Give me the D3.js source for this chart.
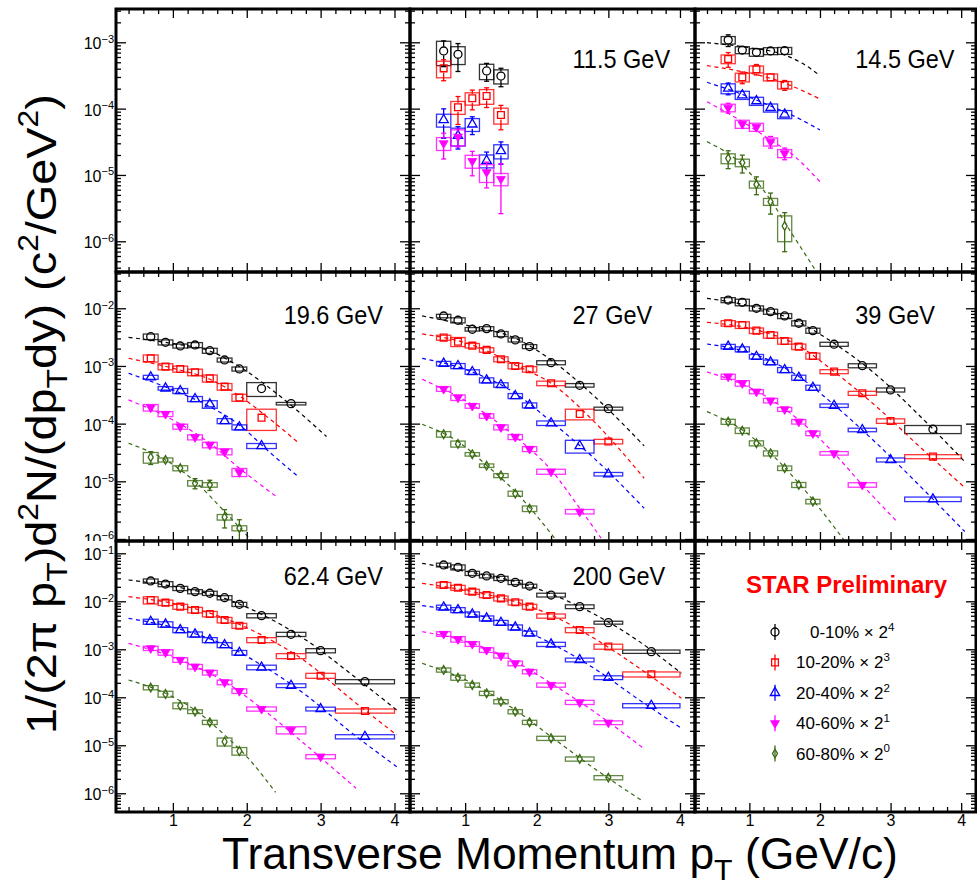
<!DOCTYPE html>
<html>
<head>
<meta charset="utf-8">
<script src="https://cdn.jsdelivr.net/npm/d3@7/dist/d3.min.js"></script>
<style>
html,body{margin:0;padding:0;background:#fff;}
svg{display:block;}
text{font-family:"Liberation Sans",Helvetica,Arial,sans-serif;}
</style>
</head>
<body>
<svg id="chart" width="977" height="889"></svg>
<script>
// ================= DATA =================
const ptBins   = [0.7, 0.9, 1.1, 1.3, 1.5, 1.7, 1.9, 2.2, 2.6, 3.0, 3.6];
const binWidth = [0.2, 0.2, 0.2, 0.2, 0.2, 0.2, 0.2, 0.4, 0.4, 0.4, 0.8];
const centralities = ["0-10%", "10-20%", "20-40%", "40-60%", "60-80%"];
const scalePower   = [4, 3, 2, 1, 0];
const energyLabels = ["11.5 GeV", "14.5 GeV", "19.6 GeV", "27 GeV", "39 GeV", "62.4 GeV", "200 GeV"];
const xTickValues = [1, 2, 3, 4];
const xTickLabels = ["1", "2", "3", "4"];
const yTickExpRow = [[-3, -4, -5, -6], [-2, -3, -4, -5, -6], [-1, -2, -3, -4, -5, -6]];
const legendTitle = "STAR Preliminary";

// ---- 11.5 GeV ----
const yield_11p5 = [
  [7.4e-4, 6.6e-4, null, 3.7e-4, 3.1e-4],
  [4.05e-4, 1.05e-4, 1.43e-4, 1.55e-4, 8.0e-5],
  [6.75e-5, 3.9e-5, 5.8e-5, 1.64e-5, 2.3e-5],
  [3.0e-5, 3.77e-5, 1.62e-5, 1.1e-5, 8.7e-6],
  []
];
const sys_11p5 = [
  [0.40, 0.30, null, 0.26, 0.24],
  [0.28, 0.22, 0.21, 0.25, 0.27],
  [0.22, 0.30, 0.22, 0.22, 0.24],
  [0.22, 0.27, 0.22, 0.30, 0.21],
  []
];
const stat_11p5 = [
  [0.42, 0.45, null, 0.30, 0.31],
  [0.35, 0.45, 0.33, 0.33, 0.40],
  [0.47, 0.37, 0.30, 0.35, 0.37],
  [0.42, 0.30, 0.40, 0.42, 0.70],
  []
];
const fitPt_11p5 = [[], [], [], [], []];
const fitLog_11p5 = [[], [], [], [], []];

// ---- 14.5 GeV ----
const yield_14p5 = [
  [1.08e-3, 7.65e-4, 7.07e-4, 7.4e-4, 7.46e-4],
  [5.6e-4, 2.97e-4, 3.92e-4, 2.97e-4, 2.27e-4],
  [2.02e-4, 1.6e-4, 1.3e-4, 1.03e-4, 8.2e-5],
  [1.03e-4, 5.86e-5, 5.28e-5, 3.17e-5, 2.12e-5],
  [1.78e-5, 1.53e-5, 7.2e-6, 3.95e-6, 1.7e-6]
];
const sys_14p5 = [
  [0.13, 0.12, 0.13, 0.12, 0.12],
  [0.15, 0.15, 0.12, 0.12, 0.13],
  [0.17, 0.14, 0.14, 0.14, 0.14],
  [0.13, 0.14, 0.14, 0.14, 0.14],
  [0.17, 0.13, 0.12, 0.12, 0.42]
];
const stat_14p5 = [
  [0.20, 0.05, 0.05, 0.05, 0.05],
  [0.25, 0.20, 0.18, 0.14, 0.17],
  [0.20, 0.10, 0.10, 0.10, 0.10],
  [0.17, 0.12, 0.12, 0.20, 0.20],
  [0.30, 0.30, 0.30, 0.35, 0.59]
];
const fitPt_14p5 = [
  [0.4, 1.0, 1.5, 1.75, 2.0],
  [0.4, 0.9, 1.3, 1.6, 2.0],
  [0.4, 0.9, 1.3, 1.6, 2.0],
  [0.4, 0.9, 1.3, 1.6, 2.0],
  [0.4, 0.9, 1.3, 1.6, 1.95]
];
const fitLog_14p5 = [
  [-3.006, -3.081, -3.191, -3.317, -3.503],
  [-3.352, -3.443, -3.543, -3.659, -3.855],
  [-3.603, -3.785, -3.960, -4.096, -4.322],
  [-3.895, -4.197, -4.473, -4.684, -5.101],
  [-4.498, -4.850, -5.378, -5.880, -6.458]
];

// ---- 19.6 GeV ----
const yield_19p6 = [
  [3.22e-3, 2.57e-3, 2.22e-3, 2.31e-3, 1.84e-3, 1.27e-3, 8.87e-4, 4.05e-4, 2.22e-4],
  [1.36e-3, 9.75e-4, 8.87e-4, 7.77e-4, 6.1e-4, 4.38e-4, 2.83e-4, 1.27e-4],
  [6.37e-4, 4.1e-4, 3.69e-4, 2.68e-4, 2.17e-4, 1.11e-4, 8.65e-5, 4.11e-5],
  [1.9e-4, 1.47e-4, 8.89e-5, 5.81e-5, 4.28e-5, 3.27e-5, 1.44e-5],
  [2.61e-5, 2.35e-5, 1.69e-5, 9.27e-6, 8.68e-6, 2.39e-6, 1.54e-6]
];
const sys_19p6 = [
  [0.11, 0.10, 0.08, 0.10, 0.10, 0.08, 0.08, 0.27, 0.05],
  [0.14, 0.12, 0.12, 0.13, 0.14, 0.13, 0.14, 0.40],
  [0.08, 0.07, 0.10, 0.10, 0.15, 0.10, 0.10, 0.10],
  [0.13, 0.10, 0.10, 0.10, 0.11, 0.12, 0.16],
  [0.21, 0.08, 0.10, 0.11, 0.09, 0.11, 0.10]
];
const stat_19p6 = [
  [0.04, 0.03, 0.03, 0.03, 0.03, 0.03, 0.04, 0.05, 0.05],
  [0.03, 0.03, 0.03, 0.03, 0.03, 0.04, 0.05, 0.10],
  [0.04, 0.03, 0.03, 0.04, 0.04, 0.05, 0.06, 0.08],
  [0.05, 0.05, 0.05, 0.05, 0.06, 0.08, 0.15],
  [0.25, 0.12, 0.15, 0.20, 0.20, 0.35, 0.40]
];
const fitPt_19p6 = [
  [0.4, 1.0, 1.5, 1.9, 2.4, 3.08],
  [0.4, 1.0, 1.5, 1.9, 2.3, 2.68],
  [0.4, 1.0, 1.5, 1.9, 2.3, 2.68],
  [0.4, 1.0, 1.5, 1.9, 2.4],
  [0.4, 0.9, 1.3, 1.7, 2.07]
];
const fitLog_19p6 = [
  [-2.503, -2.613, -2.740, -3.011, -3.473, -4.224],
  [-2.867, -3.040, -3.231, -3.520, -3.907, -4.311],
  [-3.127, -3.416, -3.705, -4.023, -4.485, -4.901],
  [-3.589, -3.936, -4.340, -4.773, -5.264],
  [-4.340, -4.629, -5.005, -5.525, -6.033]
];

// ---- 27 GeV ----
const yield_27 = [
  [7.35e-3, 6.2e-3, 4.33e-3, 4.44e-3, 3.59e-3, 2.83e-3, 2.17e-3, 1.14e-3, 4.62e-4, 1.82e-4],
  [3.1e-3, 2.64e-3, 2.25e-3, 1.9e-3, 1.31e-3, 1.0e-3, 8.78e-4, 5.0e-4, 1.47e-4, 4.89e-5],
  [1.1e-3, 1.0e-3, 7.87e-4, 5.65e-4, 4.69e-4, 3.02e-4, 2.08e-4, 1.02e-4, 4.11e-5, 1.33e-5],
  [3.99e-4, 2.83e-4, 2.03e-4, 1.36e-4, 8.65e-5, 5.88e-5, 3.64e-5, 1.47e-5, 2.98e-6],
  [6.55e-5, 4.45e-5, 2.94e-5, 1.87e-5, 1.26e-5, 6.12e-6, 3.36e-6]
];
const sys_27 = [
  [0.07, 0.10, 0.07, 0.08, 0.10, 0.08, 0.08, 0.08, 0.07, 0.06],
  [0.10, 0.18, 0.09, 0.09, 0.10, 0.11, 0.11, 0.09, 0.21, 0.09],
  [0.09, 0.10, 0.09, 0.10, 0.09, 0.10, 0.10, 0.09, 0.25, 0.07],
  [0.09, 0.11, 0.09, 0.09, 0.10, 0.10, 0.10, 0.10, 0.09],
  [0.11, 0.12, 0.07, 0.07, 0.08, 0.10, 0.11]
];
const stat_27 = [
  [0.02, 0.02, 0.02, 0.02, 0.02, 0.02, 0.02, 0.02, 0.02, 0.03],
  [0.02, 0.02, 0.02, 0.02, 0.02, 0.02, 0.02, 0.02, 0.03, 0.04],
  [0.02, 0.02, 0.02, 0.02, 0.02, 0.02, 0.02, 0.02, 0.03, 0.04],
  [0.03, 0.03, 0.03, 0.03, 0.03, 0.04, 0.05, 0.06, 0.15],
  [0.05, 0.05, 0.05, 0.05, 0.06, 0.07, 0.13]
];
const fitPt_27 = [
  [0.4, 1.1, 1.7, 2.2, 2.8, 3.5],
  [0.4, 1.1, 1.7, 2.2, 2.8, 3.5],
  [0.4, 1.1, 1.7, 2.2, 2.8, 3.5],
  [0.4, 1.1, 1.7, 2.2, 2.6, 2.9],
  [0.4, 0.9, 1.3, 1.7, 2.28]
];
const fitLog_27 = [
  [-2.133, -2.318, -2.520, -2.896, -3.520, -4.386],
  [-2.445, -2.636, -2.983, -3.300, -3.965, -4.947],
  [-2.867, -3.104, -3.473, -3.965, -4.600, -5.467],
  [-3.231, -3.676, -4.224, -4.802, -5.467, -5.987],
  [-4.011, -4.311, -4.722, -5.179, -6.033]
];

// ---- 39 GeV ----
const yield_39 = [
  [1.39e-2, 1.27e-2, 1.0e-2, 8.75e-3, 7.36e-3, 5.5e-3, 4.1e-3, 2.38e-3, 1.01e-3, 3.84e-4, 8.0e-5],
  [5.5e-3, 5.14e-3, 4.1e-3, 3.44e-3, 2.71e-3, 2.16e-3, 1.49e-3, 7.98e-4, 3.36e-4, 1.11e-4, 2.68e-5],
  [2.17e-3, 1.95e-3, 1.45e-3, 1.16e-3, 8.53e-4, 6.28e-4, 4.21e-4, 2.05e-4, 7.78e-5, 2.35e-5, 4.89e-6],
  [6.53e-4, 5.01e-4, 3.59e-4, 2.51e-4, 1.77e-4, 1.08e-4, 6.8e-5, 3.06e-5, 8.67e-6],
  [1.08e-4, 7.58e-5, 4.57e-5, 3.06e-5, 1.69e-5, 8.67e-6, 4.46e-6]
];
const sys_39 = [
  [0.10, 0.13, 0.10, 0.10, 0.10, 0.10, 0.10, 0.08, 0.08, 0.08, 0.16],
  [0.11, 0.13, 0.11, 0.12, 0.12, 0.11, 0.12, 0.08, 0.08, 0.09, 0.08],
  [0.09, 0.10, 0.09, 0.09, 0.10, 0.10, 0.10, 0.07, 0.07, 0.08, 0.09],
  [0.10, 0.11, 0.08, 0.09, 0.08, 0.09, 0.09, 0.07, 0.09],
  [0.10, 0.11, 0.10, 0.10, 0.09, 0.10, 0.09]
];
const stat_39 = [
  [0.02, 0.02, 0.02, 0.02, 0.02, 0.02, 0.02, 0.02, 0.02, 0.02, 0.03],
  [0.02, 0.02, 0.02, 0.02, 0.02, 0.02, 0.02, 0.02, 0.02, 0.02, 0.03],
  [0.02, 0.02, 0.02, 0.02, 0.02, 0.02, 0.02, 0.02, 0.02, 0.02, 0.04],
  [0.02, 0.02, 0.02, 0.02, 0.02, 0.02, 0.03, 0.03, 0.04],
  [0.03, 0.03, 0.03, 0.03, 0.04, 0.04, 0.05]
];
const fitPt_39 = [
  [0.4, 1.1, 1.7, 2.2, 2.8, 3.4, 4.05],
  [0.4, 1.1, 1.7, 2.2, 2.8, 3.4, 4.05],
  [0.4, 1.1, 1.7, 2.2, 2.8, 3.4, 4.05],
  [0.4, 1.1, 1.7, 2.2, 2.6, 3.1],
  [0.4, 0.9, 1.3, 1.7, 2.35]
];
const fitLog_39 = [
  [-1.827, -1.989, -2.243, -2.607, -3.156, -3.849, -4.658],
  [-2.243, -2.376, -2.653, -3.098, -3.705, -4.386, -5.108],
  [-2.619, -2.809, -3.185, -3.676, -4.340, -5.062, -5.871],
  [-3.104, -3.433, -3.936, -4.514, -5.062, -5.710],
  [-3.791, -4.109, -4.514, -5.033, -6.033]
];

// ---- 62.4 GeV ----
const yield_62p4 = [
  [2.65e-2, 2.29e-2, 1.86e-2, 1.59e-2, 1.47e-2, 1.19e-2, 8.65e-3, 5.02e-3, 2.05e-3, 9.37e-4, 2.12e-4],
  [1.06e-2, 9.37e-3, 7.73e-3, 6.59e-3, 5.44e-3, 4.08e-3, 3.1e-3, 1.56e-3, 7.25e-4, 2.82e-4, 5.19e-5],
  [3.77e-3, 3.31e-3, 2.52e-3, 2.05e-3, 1.56e-3, 1.23e-3, 8.51e-4, 4.2e-4, 1.75e-4, 5.71e-5, 1.51e-5],
  [1.05e-3, 8.65e-4, 6.0e-4, 4.35e-4, 3.27e-4, 2.05e-4, 1.35e-4, 5.71e-5, 2.08e-5, 5.81e-6],
  [1.59e-4, 1.17e-4, 6.7e-5, 5.03e-5, 3.01e-5, 1.19e-5, 7.6e-6]
];
const sys_62p4 = [
  [0.10, 0.12, 0.10, 0.10, 0.10, 0.10, 0.10, 0.10, 0.10, 0.10, 0.10],
  [0.17, 0.13, 0.12, 0.13, 0.13, 0.13, 0.12, 0.12, 0.12, 0.12, 0.10],
  [0.12, 0.13, 0.12, 0.12, 0.12, 0.12, 0.11, 0.11, 0.09, 0.09, 0.10],
  [0.10, 0.13, 0.11, 0.11, 0.11, 0.11, 0.11, 0.10, 0.17, 0.10],
  [0.10, 0.14, 0.14, 0.09, 0.10, 0.19, 0.18]
];
const stat_62p4 = [
  [0.02, 0.02, 0.02, 0.02, 0.02, 0.02, 0.02, 0.02, 0.02, 0.02, 0.03],
  [0.02, 0.02, 0.02, 0.02, 0.02, 0.02, 0.02, 0.02, 0.02, 0.02, 0.03],
  [0.02, 0.02, 0.02, 0.02, 0.02, 0.02, 0.02, 0.02, 0.02, 0.03, 0.04],
  [0.02, 0.02, 0.02, 0.02, 0.02, 0.02, 0.02, 0.03, 0.03, 0.05],
  [0.04, 0.04, 0.05, 0.05, 0.06, 0.08, 0.08]
];
const fitPt_62p4 = [
  [0.4, 1.1, 1.7, 2.2, 2.8, 3.4, 4.03],
  [0.4, 1.1, 1.7, 2.2, 2.8, 3.4, 4.03],
  [0.4, 1.1, 1.7, 2.2, 2.8, 3.4, 4.03],
  [0.4, 1.1, 1.7, 2.2, 2.8, 3.48],
  [0.4, 0.9, 1.3, 1.7, 2.0, 2.39]
];
const fitLog_62p4 = [
  [-1.556, -1.716, -1.938, -2.271, -2.806, -3.501, -4.265],
  [-1.903, -2.077, -2.355, -2.702, -3.258, -4.022, -4.785],
  [-2.355, -2.584, -2.910, -3.327, -3.952, -4.716, -5.445],
  [-2.876, -3.222, -3.674, -4.230, -4.994, -5.896],
  [-3.639, -3.917, -4.265, -4.785, -5.236, -5.980]
];

// ---- 200 GeV ----
const yield_200 = [
  [5.71e-2, 5.11e-2, 3.83e-2, 3.37e-2, 3.01e-2, 2.48e-2, 2.08e-2, 1.35e-2, 7.73e-3, 3.59e-3, 8.93e-4],
  [2.19e-2, 1.92e-2, 1.59e-2, 1.35e-2, 1.15e-2, 9.51e-3, 7.73e-3, 4.94e-3, 2.52e-3, 1.14e-3, 3.01e-4],
  [7.48e-3, 6.59e-3, 5.36e-3, 4.42e-3, 3.59e-3, 2.87e-3, 2.15e-3, 1.27e-3, 6.0e-4, 2.57e-4, 6.7e-5],
  [2.09e-3, 1.62e-3, 1.29e-3, 9.67e-4, 7.37e-4, 5.1e-4, 3.42e-4, 1.8e-4, 7.85e-5, 2.96e-5],
  [3.71e-4, 2.57e-4, 1.8e-4, 1.21e-4, 8.11e-5, 5.02e-5, 3.01e-5, 1.4e-5, 5.19e-6, 2.12e-6]
];
const sys_200 = [
  [0.09, 0.12, 0.10, 0.09, 0.10, 0.10, 0.09, 0.09, 0.09, 0.07, 0.08],
  [0.13, 0.12, 0.12, 0.12, 0.12, 0.12, 0.12, 0.10, 0.12, 0.12, 0.12],
  [0.11, 0.12, 0.12, 0.12, 0.11, 0.12, 0.11, 0.10, 0.09, 0.09, 0.10],
  [0.11, 0.13, 0.11, 0.11, 0.11, 0.11, 0.10, 0.10, 0.10, 0.09],
  [0.10, 0.12, 0.10, 0.10, 0.10, 0.10, 0.10, 0.10, 0.10, 0.10]
];
const stat_200 = [
  [0.02, 0.02, 0.02, 0.02, 0.02, 0.02, 0.02, 0.02, 0.02, 0.02, 0.02],
  [0.02, 0.02, 0.02, 0.02, 0.02, 0.02, 0.02, 0.02, 0.02, 0.02, 0.02],
  [0.02, 0.02, 0.02, 0.02, 0.02, 0.02, 0.02, 0.02, 0.02, 0.02, 0.03],
  [0.02, 0.02, 0.02, 0.02, 0.02, 0.02, 0.02, 0.02, 0.03, 0.03],
  [0.03, 0.03, 0.03, 0.03, 0.03, 0.03, 0.03, 0.03, 0.04, 0.05]
];
const fitPt_200 = [
  [0.4, 1.1, 1.7, 2.2, 2.8, 3.4, 4.02],
  [0.4, 1.1, 1.7, 2.2, 2.8, 3.4, 4.02],
  [0.4, 1.1, 1.7, 2.2, 2.8, 3.4, 4.02],
  [0.4, 1.1, 1.7, 2.2, 2.8, 3.49],
  [0.4, 1.1, 1.7, 2.2, 2.8, 3.49]
];
const fitLog_200 = [
  [-1.209, -1.403, -1.591, -1.848, -2.265, -2.806, -3.501],
  [-1.626, -1.799, -2.007, -2.285, -2.771, -3.361, -4.022],
  [-2.091, -2.265, -2.528, -2.876, -3.396, -4.022, -4.646],
  [-2.633, -2.876, -3.258, -3.709, -4.299, -5.063],
  [-3.292, -3.709, -4.265, -4.820, -5.479, -6.174]
];

// ================= LAYOUT / STYLE =================
const colors = ["#000000", "#ff0000", "#0000ff", "#ff00ff", "#3a6a12"];
const markerTypes = ["circle", "square", "triUp", "triDown", "diamond"];
const colEdges = [[116, 410], [410, 695], [695, 976]];
const rowEdges = [[9, 272], [272, 541], [541, 812]];
const rowLogRange = [[-6.463, -2.498], [-6.035, -1.371], [-6.39, -0.744]];
const xDomain = [0.23, 4.21];
const labelTopOffset = [59.3, 51.5, 44];

const panels = [
  {r: 0, c: 0},
  {r: 0, c: 1, e: 0, y: yield_11p5, sys: sys_11p5, stat: stat_11p5, fx: fitPt_11p5, fy: fitLog_11p5},
  {r: 0, c: 2, e: 1, y: yield_14p5, sys: sys_14p5, stat: stat_14p5, fx: fitPt_14p5, fy: fitLog_14p5},
  {r: 1, c: 0, e: 2, y: yield_19p6, sys: sys_19p6, stat: stat_19p6, fx: fitPt_19p6, fy: fitLog_19p6},
  {r: 1, c: 1, e: 3, y: yield_27, sys: sys_27, stat: stat_27, fx: fitPt_27, fy: fitLog_27},
  {r: 1, c: 2, e: 4, y: yield_39, sys: sys_39, stat: stat_39, fx: fitPt_39, fy: fitLog_39},
  {r: 2, c: 0, e: 5, y: yield_62p4, sys: sys_62p4, stat: stat_62p4, fx: fitPt_62p4, fy: fitLog_62p4},
  {r: 2, c: 1, e: 6, y: yield_200, sys: sys_200, stat: stat_200, fx: fitPt_200, fy: fitLog_200},
  {r: 2, c: 2, legend: true}
];

const svg = d3.select("#chart");
svg.append("rect").attr("width", 977).attr("height", 889).attr("fill", "#fff");
const defs = svg.append("defs");

const symbolGen = {
  circle: d3.symbol(d3.symbolCircle, 50),
  square: d3.symbol(d3.symbolSquare, 46),
  triUp: d3.symbol(d3.symbolTriangle, 38),
  triDown: d3.symbol(d3.symbolTriangle, 34),
  diamond: d3.symbol(d3.symbolDiamond, 22)
};
function drawMarker(g, s, cx, cy) {
  const type = markerTypes[s];
  const p = g.append("path").attr("d", symbolGen[type]())
    .attr("transform", `translate(${cx},${cy})` + (type === "triDown" ? " rotate(180)" : ""));
  if (type === "triDown") p.attr("fill", colors[s]).attr("stroke", colors[s]).attr("stroke-width", 0.8);
  else p.attr("fill", "none").attr("stroke", colors[s]).attr("stroke-width", 1.3);
}

function richText(parent, parts, fs) {
  const t = parent.append("text").attr("font-size", fs);
  let shift = 0;
  parts.forEach(p => {
    const ts = t.append("tspan").text(p.t);
    const target = p.sub ? fs * 0.26 : (p.sup ? -fs * 0.42 : 0);
    if (target - shift !== 0) ts.attr("dy", target - shift);
    shift = target;
    if (p.sub || p.sup) ts.attr("font-size", fs * 0.68);
  });
  return t;
}

panels.forEach((p, i) => {
  const [xl, xr] = colEdges[p.c];
  const [yt, yb] = rowEdges[p.r];
  const [lo, hi] = rowLogRange[p.r];
  const x = d3.scaleLinear().domain(xDomain).range([xl, xr]);
  const y = d3.scaleLog().domain([Math.pow(10, lo), Math.pow(10, hi)]).range([yb, yt]);
  const g = svg.append("g");
  const cid = "clip" + i;
  defs.append("clipPath").attr("id", cid).append("rect")
    .attr("x", xl).attr("y", yt).attr("width", xr - xl).attr("height", yb - yt);
  const dg = g.append("g").attr("clip-path", `url(#${cid})`);

  if (p.y) {
    // systematic boxes
    for (let s = 0; s < 5; s++) {
      const vals = p.y[s] || [];
      vals.forEach((v, j) => {
        if (v == null) return;
        const sy = p.sys[s][j], w = binWidth[j], pt = ptBins[j];
        dg.append("rect")
          .attr("x", x(pt - w / 2)).attr("width", x(pt + w / 2) - x(pt - w / 2))
          .attr("y", y(v * (1 + sy))).attr("height", y(v * (1 - sy)) - y(v * (1 + sy)))
          .attr("fill", "none").attr("stroke", colors[s]).attr("stroke-width", 1.3)
          .attr("stroke-opacity", 0.8);
      });
    }
    // fits
    const line = d3.line().x(d => x(d[0])).y(d => y(Math.pow(10, d[1]))).curve(d3.curveMonotoneX);
    for (let s = 0; s < 5; s++) {
      const fx = p.fx[s] || [];
      if (fx.length < 2) continue;
      const pts = fx.map((xv, k) => [xv, p.fy[s][k]]);
      dg.append("path").attr("d", line(pts)).attr("fill", "none")
        .attr("stroke", colors[s]).attr("stroke-width", 1.2).attr("stroke-dasharray", "4,3.5");
    }
    // stat bars + markers
    for (let s = 0; s < 5; s++) {
      const vals = p.y[s] || [];
      vals.forEach((v, j) => {
        if (v == null) return;
        const st = p.stat[s][j], pt = ptBins[j];
        const cx = x(pt), cy = y(v), top = y(v * (1 + st)), bot = y(v * (1 - st));
        const gap = 4.5;
        if (cy - top > gap) {
          dg.append("line").attr("x1", cx).attr("x2", cx).attr("y1", top).attr("y2", cy - gap)
            .attr("stroke", colors[s]).attr("stroke-width", 1.3);
          dg.append("line").attr("x1", cx - 2.5).attr("x2", cx + 2.5).attr("y1", top).attr("y2", top)
            .attr("stroke", colors[s]).attr("stroke-width", 1.3);
        }
        if (bot - cy > gap) {
          dg.append("line").attr("x1", cx).attr("x2", cx).attr("y1", cy + gap).attr("y2", bot)
            .attr("stroke", colors[s]).attr("stroke-width", 1.3);
          dg.append("line").attr("x1", cx - 2.5).attr("x2", cx + 2.5).attr("y1", bot).attr("y2", bot)
            .attr("stroke", colors[s]).attr("stroke-width", 1.3);
        }
        drawMarker(dg, s, cx, cy);
      });
    }
    // energy label
    const lx = x(2.5), ly = yt + labelTopOffset[p.r];
    g.append("text").attr("transform", `translate(${lx},${ly}) scale(0.94,1)`)
      .attr("font-size", 25).attr("fill", "#000").text(energyLabels[p.e]);
  }

  if (p.legend) {
    const lt = g.append("text").attr("font-size", 24).attr("font-weight", "bold").attr("fill", "#ff0000")
      .text(legendTitle);
    const w = lt.node().getComputedTextLength();
    lt.attr("transform", `translate(746,593) scale(${201 / w},1)`);
    centralities.forEach((cName, k) => {
      const cy = 632 + k * 30.4;
      g.append("line").attr("x1", 775).attr("x2", 775).attr("y1", cy - 8).attr("y2", cy + 8)
        .attr("stroke", colors[k]).attr("stroke-width", 1.3);
      drawMarker(g, k, 775, cy);
      const t = richText(g, [{t: cName + " \u00d7 2"}, {t: String(scalePower[k]), sup: true}], 17);
      t.attr("x", k === 0 ? 810 : 796).attr("y", cy + 6).attr("fill", "#000");
    });
  }

  // ---- ticks ----
  const xMinor = d3.range(2, 22).map(k => k / 5).filter(v => v > xDomain[0] + 0.01 && v < xDomain[1] - 0.02 && Math.abs(v - Math.round(v)) > 1e-6);
  const yMajor = d3.range(Math.ceil(lo), Math.floor(hi) + 1).map(e => Math.pow(10, e));
  const yMinor = [];
  for (let e = Math.floor(lo); e <= Math.ceil(hi); e++) {
    for (let m = 2; m <= 9; m++) {
      const v = m * Math.pow(10, e);
      if (Math.log10(v) > lo + 0.005 && Math.log10(v) < hi - 0.005) yMinor.push(v);
    }
  }
  const styleAxis = sel => {
    sel.select(".domain").remove();
    sel.selectAll(".tick line").attr("stroke", "#000").attr("stroke-width", 1.3);
  };
  const ag = g.append("g");
  ag.append("g").attr("transform", `translate(0,${yb})`)
    .call(d3.axisBottom(x).tickValues(xTickValues).tickSize(-9).tickPadding(3)
      .tickFormat((d, k) => p.r === 2 ? xTickLabels[k] : ""))
    .call(styleAxis)
    .call(sel => sel.selectAll("text").attr("font-size", 16).attr("fill", "#000")
      .attr("font-family", '"Liberation Sans",Helvetica,Arial,sans-serif'));
  ag.append("g").attr("transform", `translate(0,${yb})`)
    .call(d3.axisBottom(x).tickValues(xMinor).tickSize(-5).tickFormat(() => "")).call(styleAxis);
  ag.append("g").attr("transform", `translate(0,${yt})`)
    .call(d3.axisTop(x).tickValues(xTickValues).tickSize(-9).tickFormat(() => "")).call(styleAxis);
  ag.append("g").attr("transform", `translate(0,${yt})`)
    .call(d3.axisTop(x).tickValues(xMinor).tickSize(-5).tickFormat(() => "")).call(styleAxis);
  ag.append("g").attr("transform", `translate(${xl},0)`)
    .call(d3.axisLeft(y).tickValues(yMajor).tickSize(-10).tickFormat(() => "")).call(styleAxis);
  ag.append("g").attr("transform", `translate(${xl},0)`)
    .call(d3.axisLeft(y).tickValues(yMinor).tickSize(-5).tickFormat(() => "")).call(styleAxis);
  ag.append("g").attr("transform", `translate(${xr},0)`)
    .call(d3.axisRight(y).tickValues(yMajor).tickSize(-10).tickFormat(() => "")).call(styleAxis);
  ag.append("g").attr("transform", `translate(${xr},0)`)
    .call(d3.axisRight(y).tickValues(yMinor).tickSize(-5).tickFormat(() => "")).call(styleAxis);

  // y labels on the left column
  if (p.c === 0) {
    const lid = "lclip" + i;
    defs.append("clipPath").attr("id", lid).append("rect")
      .attr("x", 60).attr("y", yt - 20).attr("width", xl - 60).attr("height", yb - yt + 20);
    const lg = svg.append("g").attr("clip-path", `url(#${lid})`);
    yTickExpRow[p.r].forEach(ex => {
      const ty = y(Math.pow(10, ex));
      const t = lg.append("text").attr("x", xl - 2).attr("y", ty + 7).attr("text-anchor", "end")
        .attr("font-size", 16).attr("fill", "#000");
      t.append("tspan").text("10");
      t.append("tspan").attr("dy", -6.5).attr("font-size", 11).text("\u2212" + Math.abs(ex));
    });
  }

  // frame
  g.append("rect").attr("x", xl).attr("y", yt).attr("width", xr - xl).attr("height", yb - yt)
    .attr("fill", "none").attr("stroke", "#000").attr("stroke-width", 3);
});

// ---- axis titles ----
const xt = richText(svg, [{t: "Transverse Momentum p"}, {t: "T", sub: true}, {t: " (GeV/c)"}], 44)
  .attr("text-anchor", "middle").attr("fill", "#000");
{
  const w = xt.node().getComputedTextLength();
  xt.attr("transform", `translate(560,869) scale(${676 / w},1)`);
}
const ytg = svg.append("g").attr("transform", "translate(56,414) rotate(-90)");
const yt = richText(ytg, [
  {t: "1/(2\u03c0 p"}, {t: "T", sub: true}, {t: ")d"}, {t: "2", sup: true}, {t: "N/(dp"},
  {t: "T", sub: true}, {t: "dy) (c"}, {t: "2", sup: true}, {t: "/GeV"}, {t: "2", sup: true}, {t: ")"}
], 42).attr("text-anchor", "middle").attr("fill", "#000");
{
  const w = yt.node().getComputedTextLength();
  yt.attr("transform", `scale(${640 / w},1)`);
}
</script>
</body>
</html>
